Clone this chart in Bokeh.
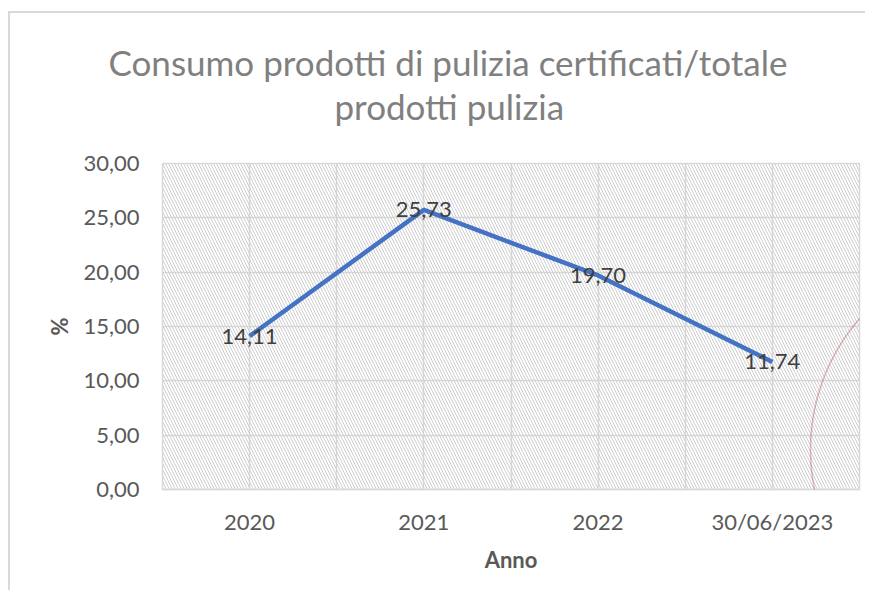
import numpy as np
from bokeh.plotting import figure
from bokeh.core.properties import value
from bokeh.models import (ColumnDataSource, LabelSet, BoxAnnotation, FixedTicker, Title,
                          CustomJSTickFormatter, Range1d, PolyAnnotation)
from bokeh.embed import file_html
from bokeh.resources import INLINE

# ---- data ----
categories = ["2020", "2021", "2022", "30/06/2023"]
values = [14.11, 25.73, 19.70, 11.74]
y_ticks = [0, 5, 10, 15, 20, 25, 30]
title_lines = ["Consumo prodotti di pulizia certificati/totale", "prodotti pulizia"]
x_title = "Anno"
y_title = "%"

labels = [f"{v:.2f}".replace(".", ",") for v in values]
src = ColumnDataSource(dict(cat=categories, val=values, lab=labels))

FONT = "Lato"

p = figure(x_range=categories, y_range=Range1d(0, 30),
           width=857, height=579, output_backend="svg", toolbar_location=None,
           min_border_left=152, min_border_right=8, min_border_top=150, min_border_bottom=103)
p.styles = {"border-left": "2px solid #d9d9d9", "border-top": "2px solid #d9d9d9",
            "margin-top": "11px", "margin-left": "8px"}

p.background_fill_color = "white"
p.border_fill_color = "white"
p.outline_line_color = "#d9d9d9"
p.outline_line_width = 1.5

# hatched plot area
hatch = BoxAnnotation(fill_color=None, line_color=None, hatch_pattern="left_diagonal_line",
                      hatch_color="#cdcdcd", hatch_scale=6, hatch_weight=1, level="underlay")
p.add_layout(hatch)

# grids
p.ygrid.ticker = FixedTicker(ticks=y_ticks)
p.ygrid.grid_line_color = "#d9d9d9"
p.ygrid.grid_line_width = 1.5
p.xgrid.ticker = FixedTicker(ticks=[0, 0.5, 1, 1.5, 2, 2.5, 3, 3.5, 4])
p.xgrid.grid_line_color = "#d9d9d9"
p.xgrid.grid_line_width = 1.5

# axes
p.yaxis.ticker = FixedTicker(ticks=y_ticks)
p.yaxis.formatter = CustomJSTickFormatter(code="return tick.toFixed(2).replace('.', ',');")
for ax in (p.xaxis[0], p.yaxis[0]):
    ax.major_tick_line_color = None
    ax.minor_tick_line_color = None
    ax.major_label_text_font = FONT
    ax.major_label_text_font_size = "22px"
    ax.major_label_text_color = "#595959"
    ax.axis_label_text_font = FONT
    ax.axis_label_text_font_size = "22px"
    ax.axis_label_text_font_style = "bold"
    ax.axis_label_text_color = "#595959"
p.yaxis.axis_line_color = None
p.xaxis.axis_line_color = "#d9d9d9"
p.xaxis.axis_line_width = 1.5
p.yaxis.major_label_standoff = 17
p.xaxis.major_label_standoff = 12
p.xaxis.axis_label = x_title
p.yaxis.axis_label = y_title
p.xaxis.axis_label_standoff = 8
p.yaxis.axis_label_standoff = 7

# line
p.line(x="cat", y="val", source=src, line_width=4.5, line_color="#4472C4", line_join="round")

# data labels
p.add_layout(LabelSet(x="cat", y="val", text="lab", source=src, text_align="center",
                      text_baseline="middle", text_font=value(FONT), text_font_size="22px",
                      text_color="#404040"))

# title (two lines), stacked above the plot area; first a blank spacer
p.add_layout(Title(text=" ", text_font_size="1px", standoff=34), "above")
p.add_layout(Title(text=title_lines[1], align="left", offset=172, text_font=FONT,
                   text_font_size="35px", text_font_style="normal", text_color="#808080",
                   standoff=0), "above")
p.add_layout(Title(text=title_lines[0], align="left", offset=-54, text_font=FONT,
                   text_font_size="35px", text_font_style="normal", text_color="#808080",
                   standoff=0), "above")

# red hand-drawn circle annotation
t = np.linspace(0, 2 * np.pi, 200)
p.add_layout(PolyAnnotation(xs=list(997 + 199 * np.cos(t)), ys=list(434 + 199 * np.sin(t)),
                            xs_units="canvas", ys_units="canvas", fill_color=None,
                            line_color="#a31f24", line_width=1.5))

open("out.html", "w").write(file_html(p, INLINE))
